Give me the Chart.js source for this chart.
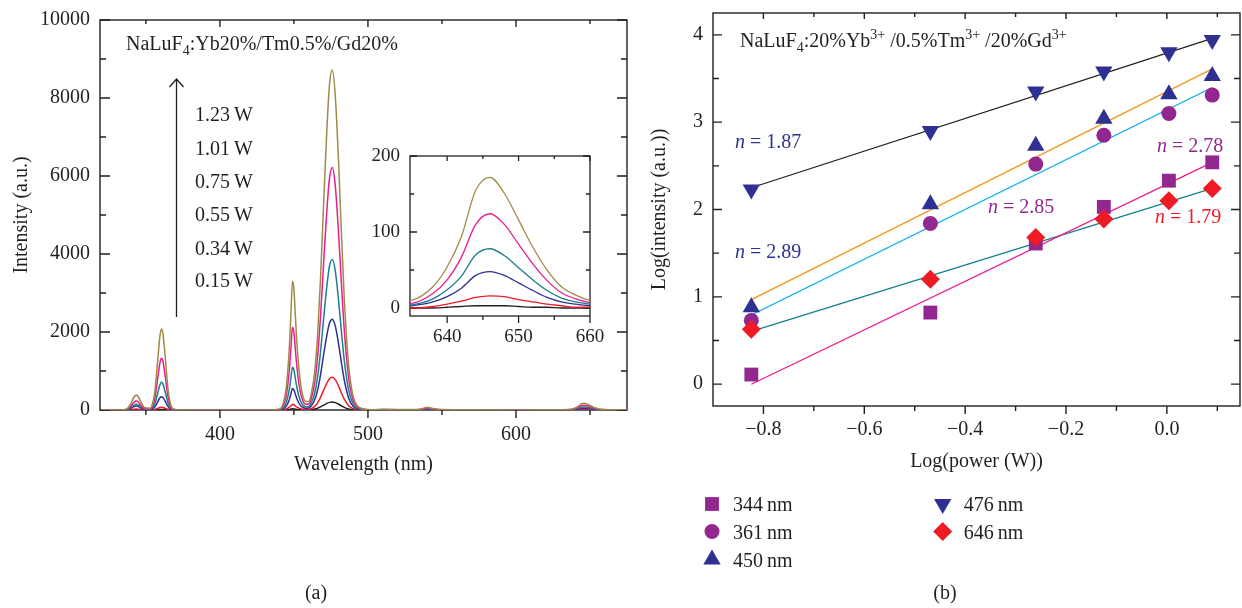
<!DOCTYPE html>
<html>
<head>
<meta charset="utf-8">
<script src="https://cdn.jsdelivr.net/npm/chart.js@4.4.1/dist/chart.umd.min.js"></script>
<style>
  html, body { margin: 0; padding: 0; background: #fff; }
  #wrap { position: relative; width: 1242px; height: 608px; overflow: hidden; background: #fff; }
  canvas { position: absolute; }
</style>
</head>
<body>
<div id="wrap">
  <canvas id="spectra" width="640" height="608" style="left:0;top:0;width:640px;height:608px"></canvas>
  <canvas id="inset" width="260" height="220" style="left:350px;top:136px;width:260px;height:220px"></canvas>
  <canvas id="power" width="602" height="608" style="left:640px;top:0;width:602px;height:608px"></canvas>
</div>
<script>
// ---------- (a) emission spectra under 980 nm excitation ----------
const wavelength = [
  320, 330, 334, 336, 338, 340, 342, 343.5, 345, 347,
  349, 351, 352.5, 354, 356, 358, 359.5, 360.5, 361.5, 363,
  365, 367, 369, 372, 380, 400, 430, 440, 443, 445,
  447, 448, 449, 450, 451, 452, 454, 456, 458, 460,
  462, 464, 466, 468, 470, 472, 474, 476, 478, 480,
  482, 484, 487, 490, 493, 497, 503, 510, 520, 530,
  536, 540, 544, 550, 570, 600, 620, 630, 635, 638,
  640, 642, 644, 646, 648, 650, 652, 654, 656, 658,
  660, 665, 676
];
const spec123 = [
  0, 2, 5, 14, 58, 176, 333, 385, 333, 176,
  65, 50, 45, 105, 460, 1280, 1900, 2080, 1960, 1380,
  520, 110, 20, 5, 0, 0, 0, 20, 200, 630,
  1670, 2500, 3300, 3100, 2400, 1730, 820, 370, 220, 220,
  470, 970, 1920, 3400, 5230, 6980, 8330, 8720, 8020, 6500,
  4620, 2880, 1130, 350, 105, 26, 5, 18, 12, 10,
  28, 70, 38, 10, 4, 3, 4, 6, 10, 28,
  54, 94, 155, 172, 151, 116, 80, 50, 28, 17,
  10, 5, 2
];
const spec101 = [
  0, 1, 3, 8, 34, 106, 200, 231, 200, 106,
  38, 30, 28, 65, 292, 818, 1215, 1325, 1251, 878,
  331, 70, 12, 3, 0, 0, 0, 13, 128, 407,
  1070, 1605, 2120, 1990, 1540, 1110, 526, 239, 146, 153,
  332, 693, 1368, 2426, 3732, 4976, 5940, 6220, 5722, 4634,
  3297, 2053, 809, 249, 75, 19, 3, 12, 8, 7,
  20, 50, 27, 7, 3, 2, 3, 4, 6, 19,
  37, 67, 110, 124, 110, 84, 58, 36, 20, 12,
  7, 3, 1
];
const spec075 = [
  0, 1, 2, 4, 21, 66, 126, 145, 126, 66,
  24, 18, 16, 36, 156, 437, 650, 709, 669, 470,
  177, 38, 7, 2, 0, 0, 0, 7, 67, 211,
  555, 833, 1099, 1032, 799, 577, 274, 126, 81, 90,
  204, 429, 849, 1505, 2316, 3088, 3686, 3860, 3551, 2876,
  2046, 1274, 502, 154, 46, 12, 2, 8, 5, 4,
  12, 30, 17, 4, 2, 1, 2, 2, 4, 12,
  24, 42, 70, 78, 69, 53, 37, 23, 13, 8,
  5, 2, 1
];
const spec055 = [
  0, 0, 1, 3, 15, 46, 87, 100, 87, 46,
  16, 10, 9, 18, 75, 211, 314, 342, 323, 227,
  86, 18, 4, 1, 0, 0, 0, 3, 33, 106,
  278, 417, 550, 517, 400, 289, 138, 65, 44, 52,
  123, 258, 513, 909, 1398, 1864, 2225, 2330, 2144, 1736,
  1235, 769, 303, 93, 28, 7, 1, 5, 3, 3,
  8, 19, 10, 3, 1, 1, 1, 1, 3, 8,
  15, 26, 43, 48, 43, 33, 23, 14, 8, 5,
  3, 1, 0
];
const spec034 = [
  0, 0, 0, 1, 4, 11, 22, 25, 22, 11,
  4, 3, 3, 4, 15, 43, 64, 70, 66, 46,
  18, 4, 1, 0, 0, 0, 0, 1, 9, 28,
  73, 109, 144, 135, 104, 75, 37, 18, 14, 17,
  43, 93, 185, 328, 504, 672, 802, 840, 773, 626,
  445, 277, 109, 34, 10, 3, 0, 2, 1, 1,
  3, 7, 4, 1, 0, 0, 0, 0, 0, 2,
  5, 9, 14, 16, 15, 11, 8, 5, 3, 1,
  1, 0, 0
];
const spec015 = [
  0, 0, 0, 0, 1, 3, 5, 6, 5, 3,
  1, 1, 1, 1, 3, 7, 11, 12, 11, 8,
  3, 1, 0, 0, 0, 0, 0, 0, 2, 6,
  15, 23, 30, 28, 22, 16, 7, 4, 3, 4,
  10, 23, 45, 80, 123, 164, 196, 205, 189, 153,
  109, 68, 27, 8, 2, 1, 0, 0, 0, 0,
  0, 0, 0, 0, 0, 0, 0, 0, 0, 0,
  1, 2, 3, 3, 3, 2, 1, 1, 0, 0,
  0, 0, 0
];
const powerLabels = ['1.23\u2009W', '1.01\u2009W', '0.75\u2009W', '0.55\u2009W', '0.34\u2009W', '0.15\u2009W'];
const spectraColors = ['#a08a4a', '#ec1c8c', '#1c7f8a', '#2e3192', '#ed1c24', '#231f20'];

const wavelengthTicks = [400, 500, 600];
const wavelengthMinor = [350, 450, 550, 650];
const intensityTicks = [0, 2000, 4000, 6000, 8000, 10000];
const intensityMinor = [1000, 3000, 5000, 7000, 9000];
const insetWavelengthTicks = [640, 650, 660];
const insetWavelengthMinor = [645, 655];
const insetIntensityTicks = [0, 100, 200];
const insetIntensityMinor = [50, 150];

// ---------- (b) power dependence ----------
const logPower = [-0.824, -0.469, -0.260, -0.125, 0.004, 0.090];
const log344 = [0.11, 0.82, 1.61, 2.03, 2.33, 2.54];
const log361 = [0.73, 1.84, 2.52, 2.85, 3.10, 3.31];
const log450 = [0.88, 2.06, 2.73, 3.04, 3.32, 3.53];
const log476 = [2.23, 2.90, 3.35, 3.58, 3.80, 3.94];
const log646 = [0.63, 1.20, 1.68, 1.89, 2.10, 2.24];
const bandLabels = ['344\u2009nm', '361\u2009nm', '450\u2009nm', '476\u2009nm', '646\u2009nm'];
const fitSlopes = [2.78, 2.85, 2.89, 1.87, 1.79];
const fitIntercepts = [2.29, 3.14, 3.35, 3.79, 2.08];
const logPowerTicks = [-0.8, -0.6, -0.4, -0.2, 0.0];
const logPowerMinor = [-0.7, -0.5, -0.3, -0.1, 0.1];
const logIntensityTicks = [0, 1, 2, 3, 4];
const logIntensityMinor = [0.5, 1.5, 2.5, 3.5];

// ---------- shared helpers ----------
const INK = '#231f20';
const FAMILY = "'Liberation Serif', 'Times New Roman', serif";
Chart.defaults.font.family = FAMILY;
Chart.defaults.color = INK;

const setTicks = values => scale => { scale.ticks = values.map(v => ({ value: v })); };
// fixed axis box sizes, no extra label overhang padding, so the plot box sits exactly where the layout puts it
const noOverhang = scale => { scale.paddingLeft = 0; scale.paddingRight = 0; scale.paddingTop = 0; scale.paddingBottom = 0; };
const setWidth = w => scale => { scale.width = w; noOverhang(scale); };
const setHeight = h => scale => { scale.height = h; noOverhang(scale); };
const minusFmt = v => (Math.abs(v) < 1e-9 ? '0.0' : v.toFixed(1).replace('-', '\u2212'));

function drawRich(ctx, x, y, parts, size, color) {
  let cx = x;
  for (const p of parts) {
    const small = p.sub || p.sup;
    const s = small ? Math.round(size * 0.68) : size;
    ctx.font = (p.italic ? 'italic ' : '') + s + 'px ' + FAMILY;
    const dy = p.sub ? size * 0.27 : p.sup ? -size * 0.42 : 0;
    ctx.fillStyle = p.color || color;
    ctx.fillText(p.t, cx, y + dy);
    cx += ctx.measureText(p.t).width;
  }
  return cx;
}

function marker(ctx, style, x, y) {
  ctx.fillStyle = style.color;
  if (Chart.helpers && Chart.helpers.drawPoint) {
    Chart.helpers.drawPoint(ctx, { pointStyle: style.pointStyle, radius: style.radius, rotation: style.rotation || 0, borderWidth: 0 }, x, y);
    return;
  }
  ctx.beginPath();
  ctx.arc(x, y, style.radius, 0, Math.PI * 2);
  ctx.fill();
}

// Box frame with inward ticks on the value axes and outward ticks on the bottom axis
const frameTicks = {
  id: 'frameTicks',
  beforeDatasetsDraw(chart, args, o) {
    const { ctx, chartArea: a } = chart;
    const xs = chart.scales.x, ys = chart.scales.y;
    ctx.save();
    ctx.strokeStyle = INK;
    ctx.lineWidth = o.width || 1.4;
    ctx.strokeRect(a.left, a.top, a.right - a.left, a.bottom - a.top);
    ctx.beginPath();
    const xTick = (v, out, inn) => {
      const p = xs.getPixelForValue(v);
      ctx.moveTo(p, a.bottom); ctx.lineTo(p, a.bottom + out);
      ctx.moveTo(p, a.top); ctx.lineTo(p, a.top + inn);
    };
    const yTick = (v, len) => {
      const p = ys.getPixelForValue(v);
      ctx.moveTo(a.left, p); ctx.lineTo(a.left + len, p);
      ctx.moveTo(a.right, p); ctx.lineTo(a.right - len, p);
    };
    o.xMajor.forEach(v => xTick(v, o.xLen[0], o.topLen[0]));
    o.xMinor.forEach(v => xTick(v, o.xLen[1], o.topLen[1]));
    o.yMajor.forEach(v => yTick(v, o.yLen[0]));
    o.yMinor.forEach(v => yTick(v, o.yLen[1]));
    ctx.stroke();
    ctx.restore();
  }
};

const baseOptions = (padding) => ({
  responsive: false,
  animation: false,
  events: [],
  layout: { padding, autoPadding: false },
  plugins: { legend: { display: false }, tooltip: { enabled: false } }
});

const spectra = [spec123, spec101, spec075, spec055, spec034, spec015];
const spectraSets = (width) => spectra.map((s, i) => ({
  label: powerLabels[i],
  data: wavelength.map((w, j) => ({ x: w, y: s[j] })),
  borderColor: spectraColors[i],
  borderWidth: width,
  pointRadius: 0,
  fill: false,
  cubicInterpolationMode: 'monotone'
}));

// ---------- chart (a) ----------
const spectraNotes = {
  id: 'spectraNotes',
  afterDraw(chart) {
    const ctx = chart.ctx;
    ctx.save();
    ctx.textAlign = 'left';
    ctx.textBaseline = 'alphabetic';
    drawRich(ctx, 126, 50, [{ t: 'NaLuF' }, { t: '4', sub: true }, { t: ':Yb20%/Tm0.5%/Gd20%' }], 20, INK);
    const baselines = [121, 155, 188, 221, 255, 287];
    ctx.font = '20px ' + FAMILY;
    ctx.fillStyle = INK;
    powerLabels.forEach((t, i) => ctx.fillText(t, 195, baselines[i]));
    // increasing-power arrow
    ctx.strokeStyle = INK;
    ctx.lineWidth = 1.3;
    ctx.beginPath();
    ctx.moveTo(176.5, 317); ctx.lineTo(176.5, 79);
    ctx.moveTo(169.5, 87); ctx.lineTo(176.5, 79); ctx.lineTo(183.5, 87);
    ctx.stroke();
    ctx.textAlign = 'center';
    ctx.textBaseline = 'middle';
    ctx.fillText('(a)', 316, 594);
    ctx.restore();
  }
};

new Chart(document.getElementById('spectra'), {
  type: 'line',
  data: { datasets: spectraSets(1.5) },
  options: Object.assign(baseOptions({ left: 0, top: 20, right: 13, bottom: 128 }), {
    plugins: {
      legend: { display: false }, tooltip: { enabled: false },
      frameTicks: { xMajor: wavelengthTicks, xMinor: wavelengthMinor, yMajor: intensityTicks, yMinor: intensityMinor,
                    xLen: [8, 5], topLen: [7, 4], yLen: [10, 6] }
    },
    scales: {
      x: {
        type: 'linear', min: 319, max: 675,
        grid: { display: false, drawTicks: false }, border: { display: false },
        afterBuildTicks: setTicks(wavelengthTicks), afterFit: setHeight(70),
        ticks: { padding: 13, font: { size: 20 }, maxRotation: 0, autoSkip: false, callback: v => String(v) },
        title: { display: true, text: 'Wavelength (nm)', font: { size: 20 }, padding: { top: 0, bottom: 3 } }
      },
      y: {
        type: 'linear', min: 0, max: 10000,
        grid: { display: false, drawTicks: false }, border: { display: false },
        afterBuildTicks: setTicks(intensityTicks), afterFit: setWidth(100),
        ticks: { padding: 10, font: { size: 20 }, autoSkip: false, callback: v => String(v) },
        title: { display: true, text: 'Intensity (a.u.)', font: { size: 20 }, padding: { top: 10, bottom: 0 } }
      }
    }
  }),
  plugins: [frameTicks, spectraNotes]
});

// ---------- inset: 646 nm band ----------
new Chart(document.getElementById('inset'), {
  type: 'line',
  data: { datasets: spectraSets(1.3) },
  options: Object.assign(baseOptions({ left: 0, top: 20, right: 20, bottom: 10 }), {
    plugins: {
      legend: { display: false }, tooltip: { enabled: false },
      frameTicks: { xMajor: insetWavelengthTicks, xMinor: insetWavelengthMinor, yMajor: insetIntensityTicks, yMinor: insetIntensityMinor,
                    xLen: [7, 4], topLen: [5, 3], yLen: [7, 4], width: 1.3 }
    },
    scales: {
      x: {
        type: 'linear', min: 634.8, max: 660,
        grid: { display: false, drawTicks: false }, border: { display: false },
        afterBuildTicks: setTicks(insetWavelengthTicks), afterFit: setHeight(30),
        ticks: { padding: 10, font: { size: 19 }, maxRotation: 0, autoSkip: false, callback: v => String(v) }
      },
      y: {
        type: 'linear', min: -10.5, max: 200,
        grid: { display: false, drawTicks: false }, border: { display: false },
        afterBuildTicks: setTicks(insetIntensityTicks), afterFit: setWidth(60),
        ticks: { padding: 10, font: { size: 19 }, autoSkip: false, callback: v => String(v) }
      }
    }
  }),
  plugins: [frameTicks]
});

// ---------- chart (b) ----------
const bandSeries = [log344, log361, log450, log476, log646];
const bandStyles = [
  { pointStyle: 'rect', radius: 9.8, color: '#92278f', order: 4 },
  { pointStyle: 'circle', radius: 7.5, color: '#92278f', order: 3 },
  { pointStyle: 'triangle', radius: 10, color: '#2e3192', order: 2 },
  { pointStyle: 'triangle', radius: 10, rotation: 180, color: '#2e3192', order: 1 },
  { pointStyle: 'rectRot', radius: 9.5, color: '#ed1c24', order: 0 }
];
const fitColors = ['#ec1c8c', '#00adef', '#f7941d', '#231f20', '#13808a'];
const slopeLabelColors = ['#92278f', '#92278f', '#2e3192', '#2e3192', '#ed1c24'];

const pointSets = bandSeries.map((s, i) => ({
  type: 'scatter',
  label: bandLabels[i],
  data: logPower.map((x, j) => ({ x, y: s[j] })),
  pointStyle: bandStyles[i].pointStyle,
  pointRadius: bandStyles[i].radius,
  pointRotation: bandStyles[i].rotation || 0,
  backgroundColor: bandStyles[i].color,
  borderColor: bandStyles[i].color,
  pointBorderWidth: 0,
  showLine: false,
  clip: false,
  order: bandStyles[i].order
}));
const first = logPower[0], last = logPower[logPower.length - 1];
const fitSets = fitSlopes.map((n, i) => ({
  type: 'line',
  label: 'fit ' + bandLabels[i],
  data: [{ x: first, y: fitIntercepts[i] + n * first }, { x: last, y: fitIntercepts[i] + n * last }],
  borderColor: fitColors[i],
  borderWidth: 1.3,
  pointRadius: 0,
  fill: false,
  order: 10
}));

const powerNotes = {
  id: 'powerNotes',
  afterDraw(chart) {
    const ctx = chart.ctx;
    ctx.save();
    ctx.textAlign = 'left';
    ctx.textBaseline = 'alphabetic';
    drawRich(ctx, 100, 47, [
      { t: 'NaLuF' }, { t: '4', sub: true }, { t: ':20%Yb' }, { t: '3+', sup: true },
      { t: ' /0.5%Tm' }, { t: '3+', sup: true }, { t: ' /20%Gd' }, { t: '3+', sup: true }
    ], 20, INK);
    // slope annotations (band order: 344, 361, 450, 476, 646)
    const spots = [[517, 152], [348, 213], [95, 258], [95, 148], [515, 223]];
    fitSlopes.forEach((n, i) => {
      drawRich(ctx, spots[i][0], spots[i][1], [{ t: 'n', italic: true }, { t: ' = ' + n.toFixed(2) }], 20, slopeLabelColors[i]);
    });
    // legend: two columns
    const cells = [[72, 504], [72, 531.5], [72, 559.5], [302.7, 504], [302.7, 531.5]];
    bandLabels.forEach((label, i) => {
      const [mx, my] = cells[i];
      marker(ctx, bandStyles[i], mx, my);
      ctx.font = '20px ' + FAMILY;
      ctx.fillStyle = INK;
      ctx.fillText(label, mx + 21, my + 7);
    });
    ctx.textAlign = 'center';
    ctx.textBaseline = 'middle';
    ctx.font = '20px ' + FAMILY;
    ctx.fillStyle = INK;
    ctx.fillText('(b)', 305, 594);
    ctx.restore();
  }
};

new Chart(document.getElementById('power'), {
  type: 'scatter',
  data: { datasets: pointSets.concat(fitSets) },
  options: Object.assign(baseOptions({ left: 0, top: 13, right: 2, bottom: 132 }), {
    plugins: {
      legend: { display: false }, tooltip: { enabled: false },
      frameTicks: { xMajor: logPowerTicks, xMinor: logPowerMinor, yMajor: logIntensityTicks, yMinor: logIntensityMinor,
                    xLen: [8, 5], topLen: [6, 4], yLen: [9, 6] }
    },
    scales: {
      x: {
        type: 'linear', min: -0.9, max: 0.145,
        grid: { display: false, drawTicks: false }, border: { display: false },
        afterBuildTicks: setTicks(logPowerTicks), afterFit: setHeight(70),
        ticks: { padding: 12, font: { size: 20 }, maxRotation: 0, autoSkip: false, callback: minusFmt },
        title: { display: true, text: 'Log(power (W))', font: { size: 20 }, padding: { top: 0, bottom: 2 } }
      },
      y: {
        type: 'linear', min: -0.25, max: 4.25,
        grid: { display: false, drawTicks: false }, border: { display: false },
        afterBuildTicks: setTicks(logIntensityTicks), afterFit: setWidth(73),
        ticks: { padding: 10, font: { size: 20 }, autoSkip: false, callback: v => String(v) },
        title: { display: true, text: 'Log(intensity (a.u.))', font: { size: 20 }, padding: { top: 8, bottom: 0 } }
      }
    }
  }),
  plugins: [frameTicks, powerNotes]
});
</script>
</body>
</html>
